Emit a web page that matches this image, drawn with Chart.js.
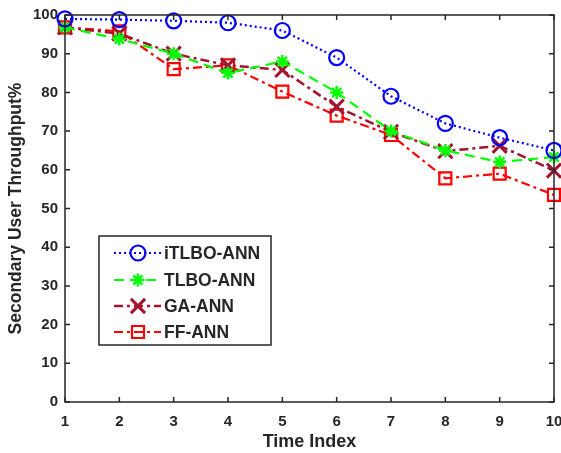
<!DOCTYPE html>
<html>
<head>
<meta charset="utf-8">
<script src="https://cdn.jsdelivr.net/npm/chart.js@4/dist/chart.umd.min.js"></script>
<style>
html,body{margin:0;padding:0;background:#fff;}
#wrap{width:561px;height:453px;position:relative;}
</style>
</head>
<body>
<div id="wrap"><canvas id="c" width="561" height="453"></canvas></div>
<script>
const categories = ['1','2','3','4','5','6','7','8','9','10'];
const seriesNames = ['iTLBO-ANN','TLBO-ANN','GA-ANN','FF-ANN'];
const itlbo = [99, 98.8, 98.5, 98, 96, 89, 79, 72, 68.3, 65];
const tlbo  = [96.8, 93.8, 90, 85, 88, 80, 70, 65, 62, 63.3];
const ga    = [96.8, 95.2, 90, 87, 85.8, 76.3, 69.8, 64.8, 66.2, 59.8];
const ff    = [96.8, 95.8, 86, 87, 80.2, 74, 69, 57.8, 59, 53.5];
const yTicks = [0,10,20,30,40,50,60,70,80,90,100];

const FONT = "'Liberation Sans', Arial, sans-serif";
const AX = '#262626';

const styles = [
  {color:'#0000FF', dash:[2,3], width:2.2, point:'circle', radius:7.5, pbw:2.2},
  {color:'#00FF00', dash:[10,6], width:2.2, point:'star', radius:6.5, pbw:2.5},
  {color:'#A2142F', dash:[9,4,3,4], width:2.5, point:'crossRot', radius:10, pbw:3},
  {color:'#FF0000', dash:[9,4,3,4], width:2.2, point:'rect', radius:8.5, pbw:2.2}
];
const dataArr = [itlbo, tlbo, ga, ff];

const datasets = dataArr.map((d,i)=>({
  label: seriesNames[i],
  data: d,
  borderColor: styles[i].color,
  backgroundColor: 'rgba(0,0,0,0)',
  borderWidth: styles[i].width,
  borderDash: styles[i].dash,
  pointStyle: styles[i].point,
  pointRadius: styles[i].radius,
  pointBorderWidth: styles[i].pbw,
  pointBorderColor: styles[i].color,
  pointBackgroundColor: 'rgba(0,0,0,0)',
  tension: 0,
  fill: false,
  clip: false
}));

const boxPlugin = {
  id:'box',
  afterDatasetsDraw(chart){
    const ctx = chart.ctx, a = chart.chartArea;
    const xs = chart.scales.x, ys = chart.scales.y;
    ctx.save();
    ctx.strokeStyle = AX;
    ctx.lineWidth = 1.5;
    ctx.setLineDash([]);
    ctx.strokeRect(a.left, a.top, a.right - a.left, a.bottom - a.top);
    const tl = 5;
    ctx.beginPath();
    categories.forEach((c,i)=>{
      const x = xs.getPixelForValue(i);
      ctx.moveTo(x, a.bottom); ctx.lineTo(x, a.bottom - tl);
      ctx.moveTo(x, a.top); ctx.lineTo(x, a.top + tl);
    });
    yTicks.forEach(v=>{
      const y = ys.getPixelForValue(v);
      ctx.moveTo(a.left, y); ctx.lineTo(a.left + tl, y);
      ctx.moveTo(a.right, y); ctx.lineTo(a.right - tl, y);
    });
    ctx.stroke();

    // legend
    const lx = 99, ly = 236, lw = 172, lh = 109;
    ctx.fillStyle = '#fff';
    ctx.fillRect(lx, ly, lw, lh);
    ctx.lineWidth = 1.5;
    ctx.strokeStyle = AX;
    ctx.strokeRect(lx, ly, lw, lh);
    const rows = [253, 280, 306, 332];
    ctx.font = 'bold 17.5px ' + FONT;
    ctx.textBaseline = 'middle';
    ctx.textAlign = 'left';
    seriesNames.forEach((n,i)=>{
      const s = styles[i], y = rows[i];
      ctx.strokeStyle = s.color;
      ctx.lineWidth = s.width;
      ctx.setLineDash(s.dash);
      ctx.beginPath();
      ctx.moveTo(114, y); ctx.lineTo(161, y);
      ctx.stroke();
      ctx.setLineDash([]);
      ctx.lineWidth = s.pbw;
      ctx.fillStyle = 'rgba(0,0,0,0)';
      Chart.helpers.drawPoint(ctx, {pointStyle:s.point, radius:s.radius, rotation:0, borderWidth:s.pbw}, 138, y);
      ctx.fillStyle = AX;
      ctx.fillText(n, 164, y + 1);
    });
    ctx.restore();
  }
};

new Chart(document.getElementById('c'), {
  type:'line',
  data:{labels:categories, datasets},
  options:{
    responsive:false,
    animation:false,
    devicePixelRatio:1,
    layout:{autoPadding:false, padding:{top:15, right:7, left:0, bottom:0}},
    plugins:{legend:{display:false}, tooltip:{enabled:false}},
    scales:{
      x:{
        type:'category',
        offset:false,
        grid:{display:false, drawTicks:false},
        border:{display:false},
        ticks:{color:AX, font:{family:FONT, size:15, weight:'bold'}, padding:11, maxRotation:0, autoSkip:false},
        title:{display:true, text:'Time Index', color:AX, font:{family:FONT, size:18, weight:'bold'}, padding:{top:0,bottom:0}},
        afterFit(s){ s.height = 51; s.paddingLeft = 0; s.paddingRight = 0; }
      },
      y:{
        min:0, max:100,
        grid:{display:false, drawTicks:false},
        border:{display:false},
        ticks:{stepSize:10, color:AX, font:{family:FONT, size:15, weight:'bold'}, padding:7},
        title:{display:true, text:'Secondary User Throughput%', color:AX, font:{family:FONT, size:17.5, weight:'bold'}, padding:{top:6,bottom:0}},
        afterFit(s){ s.width = 65; s.paddingTop = 0; s.paddingBottom = 0; }
      }
    }
  },
  plugins:[boxPlugin]
});
</script>
</body>
</html>
